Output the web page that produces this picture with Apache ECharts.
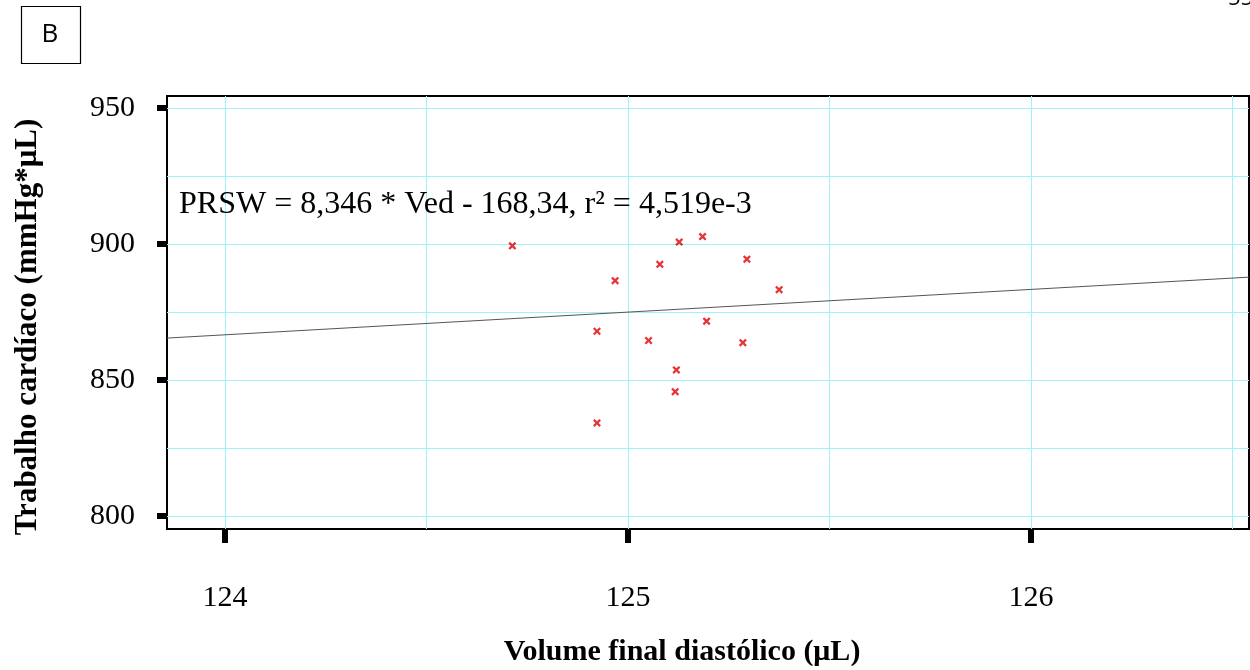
<!DOCTYPE html>
<html>
<head>
<meta charset="utf-8">
<script src="https://cdn.jsdelivr.net/npm/echarts@6/dist/echarts.min.js"></script>
<style>
html,body{margin:0;padding:0;background:#fff;}
#chart{width:1250px;height:670px;}
</style>
</head>
<body>
<div id="chart"></div>
<script>
// ---- data ----
var pointsVed = [124.713,125.127,125.185,125.079,125.295,124.968,125.375,125.195,124.923,125.051,125.285,125.120,125.117,124.923];
var pointsPRSW = [899.3,900.7,902.7,892.5,894.4,886.5,883.2,871.6,867.9,864.5,863.7,853.7,845.7,834.2];
var fitLine = [[123.856,865.4],[126.541,887.8]];
var xTicks = [124,125,126];
var yTicks = [800,850,900,950];
var xGridLines = [124,124.5,125,125.5,126,126.5];
var yGridLines = [800,825,850,875,900,925,950];
var xRange = [123.856,126.541];
var yRange = [795.2,954.4];
var equationText = 'PRSW = 8,346 * Ved - 168,34, r\u00b2 = 4,519e-3';
var xTitle = 'Volume final diastólico (\u03bcL)';
var yTitle = 'Trabalho cardíaco (mmHg*\u03bcL)';
var panelLabel = 'B';
var pageNumber = '55';

var serif = '"Liberation Serif","DejaVu Serif",serif';
var scatterData = pointsVed.map(function(v,i){return [v,pointsPRSW[i]];});
var gridMarks = xGridLines.map(function(v){return {xAxis:v};})
  .concat(yGridLines.map(function(v){return {yAxis:v};}));

var chart = echarts.init(document.getElementById('chart'));
chart.setOption({
  animation:false,
  backgroundColor:'#fff',
  grid:{left:167,top:96,right:1,bottom:141,show:true,borderColor:'#000',borderWidth:2,backgroundColor:'transparent'},
  xAxis:{
    type:'value',min:xRange[0],max:xRange[1],
    axisLine:{show:false},
    splitLine:{show:false},
    axisTick:{show:true,customValues:xTicks,length:14,lineStyle:{color:'#000',width:6}},
    axisLabel:{customValues:xTicks,margin:54,color:'#000',fontFamily:serif,fontSize:30}
  },
  yAxis:{
    type:'value',min:yRange[0],max:yRange[1],
    axisLine:{show:false},
    splitLine:{show:false},
    axisTick:{show:true,customValues:yTicks,length:10,lineStyle:{color:'#000',width:6}},
    axisLabel:{customValues:yTicks,margin:32,color:'#000',fontFamily:serif,fontSize:30}
  },
  series:[
    {
      type:'line',data:fitLine,symbol:'none',silent:true,z:2,
      lineStyle:{color:'#555',width:1},
      markLine:{silent:true,symbol:'none',label:{show:false},animation:false,z:1,
        lineStyle:{color:'#9ff3f6',type:'solid',width:1},
        data:gridMarks}
    },
    {
      type:'scatter',data:scatterData,z:3,
      symbol:'path://M0,2L2,0L5,3L8,0L10,2L7,5L10,8L8,10L5,7L2,10L0,8L3,5Z',
      symbolSize:8,
      itemStyle:{color:'#e00000'}
    }
  ],
  graphic:[
    {type:'rect',shape:{x:21.5,y:6.5,width:59,height:57},style:{fill:'none',stroke:'#000',lineWidth:1.2}},
    {type:'text',x:50,y:35,style:{text:panelLabel,font:'26px "Open Sans", sans-serif',fill:'#000',textAlign:'center',textVerticalAlign:'middle'}},
    {type:'text',x:1228,y:10,style:{text:pageNumber,font:'22px "Open Sans", sans-serif',fill:'#000',textAlign:'left',textVerticalAlign:'bottom'}},
    {type:'text',x:179,y:205,z:10,style:{text:equationText,font:'32px '+serif,fill:'#000',textAlign:'left',textVerticalAlign:'middle'}},
    {type:'text',x:682,y:652,style:{text:xTitle,font:'bold 30px '+serif,fill:'#000',textAlign:'center',textVerticalAlign:'middle'}},
    {type:'text',x:28,y:327,rotation:Math.PI/2,style:{text:yTitle,font:'bold 31px '+serif,fill:'#000',textAlign:'center',textVerticalAlign:'middle'}}
  ]
});
</script>
</body>
</html>
